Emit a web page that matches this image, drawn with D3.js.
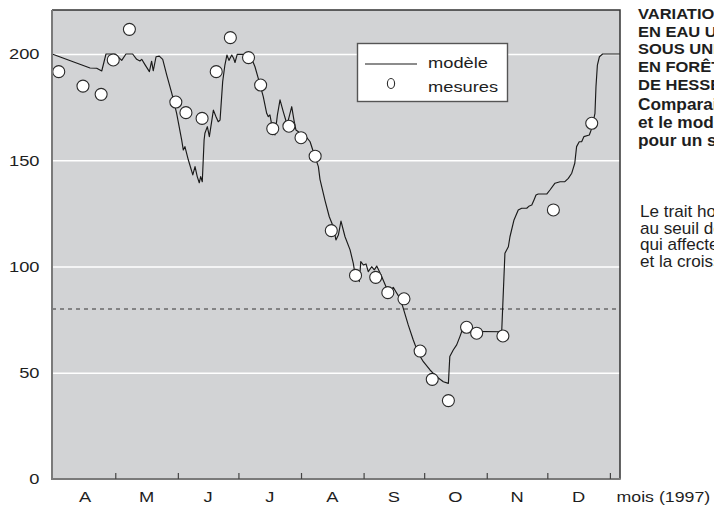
<!DOCTYPE html>
<html>
<head>
<meta charset="utf-8">
<script src="https://cdn.jsdelivr.net/npm/d3@7"></script>
<style>
  html, body { margin: 0; padding: 0; background: #fff; }
  svg { display: block; }
  text { font-family: "Liberation Sans", Arial, Helvetica, sans-serif; fill: #1e1e1e; }
</style>
</head>
<body>
<svg id="chart" width="714" height="505"></svg>
<script>
// ---- data (x = day of year 1997) ----
const modelDay = [89.7,108.5,111.8,114.3,116.4,120.9,124.2,126.3,129.6,131.6,133.2,134.1,135.7,137.9,139.0,139.8,141.2,142.8,144.5,146.5,149.0,151.4,153.9,154.7,155.5,157.2,159.4,160.5,161.6,162.6,163.3,164.1,165.0,165.4,166.6,167.6,169.6,170.9,172.0,172.9,174.2,175.3,176.3,177.3,178.7,179.6,180.3,181.4,187.7,190.2,191.8,194.3,196.0,196.8,197.6,199.0,200.1,201.3,202.6,204.2,205.9,206.7,208.4,209.5,210.5,211.7,213.3,214.5,215.5,217.5,219.1,221.6,222.4,224.9,227.0,229.0,230.3,231.5,232.8,234.8,237.3,238.9,239.7,241.9,242.6,243.9,245.2,246.3,248.0,249.3,250.5,251.8,253.0,255.1,257.1,258.7,260.0,262.0,263.4,266.1,268.6,271.1,273.6,276.9,280.2,283.5,286.0,286.7,288.4,290.1,291.7,293.4,295.2,312.4,314.0,315.7,316.5,318.5,320.6,322.3,324.8,326.1,327.3,328.4,329.4,330.5,334.7,336.3,338.8,341.3,343.7,345.4,347.1,348.6,349.5,350.8,352.0,353.1,355.8,357.0,358.6,359.1,359.8,360.8,362.4,371.0];
const modelValue = [200,193.4,193.3,192,200,200,197,200,200,197.5,196.7,197.5,195,191.7,196.6,192.1,198.7,199,197.5,190.1,181.5,172.1,159.5,154.8,156.4,150.1,143.1,147,142.3,139.4,142.3,139.9,159.5,162.7,165.8,161.1,173.6,170.5,168.1,168.9,187,194.8,199.5,197,199.5,198,196,199.8,199.8,194,188.6,179.9,172.1,170.5,171.3,164.2,161.9,171.3,178.4,172.9,167.4,168.9,175.2,168.9,164.2,163.4,158,158.7,161.1,158.7,154,147,141,131,123.4,118.7,112.5,114.8,121.4,114,107.8,101.5,96.8,92.9,102.3,100.7,101.2,97.6,99.9,98.4,100.2,97.6,95.2,90.5,88.9,90.2,88.1,85,81.1,72.5,65.4,59.1,55.2,51.3,48.1,45.8,45,57.6,60.7,63.1,67,71.5,69.5,69.3,106.2,109.3,114,121.9,126.6,127.4,127.4,128.5,128.9,131.3,133.6,134.1,134.1,136,139.2,139.9,139.9,141.5,143.9,148.6,156.4,158.7,158.7,161.1,161.9,165,172.1,184.6,194.8,198.7,200,200];
const measureDay = [93,105,114,120,128,151,156,164,171,178,187,193,199,207,213,220,228,240,250,256,264,272,278,286,295,300,313,338,357];
const measureValue = [191.7,184.9,181,197.2,211.6,177.4,172.4,169.7,191.7,207.7,198.3,185.4,164.9,166,160.6,151.9,116.9,95.8,94.9,87.7,84.8,60.2,46.9,36.9,71.4,68.6,67.3,126.6,167.4];
const yTicks = [0, 50, 100, 150, 200];
const gridValues = [50, 100, 150, 200];
const monthLabels = ["A", "M", "J", "J", "A", "S", "O", "N", "D"];
const monthStart = [91, 121, 152, 182, 213, 244, 274, 305, 335, 366];
const threshold = 80;
const legendLabels = ["modèle", "mesures"];
const axisTitle = "mois (1997)";
const titleLines = ["VARIATIONS DE LA RÉSERVE", "EN EAU UTILE DU SOL", "SOUS UNE HÊTRAIE", "EN FORÊT DOMANIALE", "DE HESSE (MOSELLE)"];
const subtitleLines = ["Comparaison entre les mesures", "et le modèle", "pour un sol limoneux"];
const noteLines = ["Le trait horizontal correspond", "au seuil de déficit hydrique", "qui affecte la transpiration", "et la croissance des arbres."];

// ---- layout ----
const L = 52, R = 620, T = 10, B = 479;
const SX = 1.22; // horizontal stretch of chart lettering
const svg = d3.select("#chart");

const x = d3.scaleLinear().domain([89.66, 371]).range([L, R]);
const y = d3.scaleLinear().domain([0, 220.7]).range([B, T]);

// plot background
svg.append("rect").attr("x", L).attr("y", T).attr("width", R - L).attr("height", B - T)
  .attr("fill", "#d2d3d5");

// gridlines
const grid = svg.append("g").attr("transform", `translate(${L},0)`)
  .call(d3.axisLeft(y).tickValues(gridValues).tickSize(-(R - L)).tickFormat(""));
grid.select(".domain").remove();
grid.selectAll("line").attr("stroke", "#ffffff").attr("stroke-width", 1.3);

// threshold dashed line
svg.append("line")
  .attr("x1", L).attr("x2", R).attr("y1", y(threshold)).attr("y2", y(threshold))
  .attr("stroke", "#6a6a6a").attr("stroke-width", 1.3).attr("stroke-dasharray", "4,4");

// model line
const modelData = modelDay.map((d, i) => ({ d, v: modelValue[i] }));
svg.append("path").datum(modelData)
  .attr("fill", "none").attr("stroke", "#1a1a1a").attr("stroke-width", 1.15)
  .attr("stroke-linejoin", "round")
  .attr("d", d3.line().x(p => x(p.d)).y(p => y(p.v)));

// measures
const measData = measureDay.map((d, i) => ({ d, v: measureValue[i] }));
svg.append("g").selectAll("circle").data(measData).join("circle")
  .attr("cx", p => x(p.d)).attr("cy", p => y(p.v)).attr("r", 6)
  .attr("fill", "#ffffff").attr("stroke", "#2a2a2a").attr("stroke-width", 1.1);

// frame: top & right dark
svg.append("path")
  .attr("d", `M${L},${T}H${R}V${B}`)
  .attr("fill", "none").attr("stroke", "#333").attr("stroke-width", 1.5);

// y axis
const yAxis = svg.append("g").attr("transform", `translate(${L},0)`)
  .call(d3.axisLeft(y).tickValues(yTicks).tickSize(0).tickPadding(0));
yAxis.select(".domain").attr("stroke", "#7a7a7a").attr("stroke-width", 2)
  .attr("d", `M0,${B}V${T}`);
yAxis.selectAll("text")
  .attr("x", -12.5 / SX).attr("transform", `scale(${SX},1)`)
  .attr("font-size", 15).attr("font-family", "Liberation Sans, Arial, sans-serif")
  .attr("fill", "#1e1e1e");

// x axis ticks (month boundaries)
const xAxis = svg.append("g").attr("transform", `translate(0,${B})`)
  .call(d3.axisBottom(x).tickValues(monthStart.slice(1)).tickSize(-6).tickFormat(""));
xAxis.select(".domain").attr("stroke", "#7a7a7a").attr("stroke-width", 2)
  .attr("d", `M${L - 1},0H${R + 0.75}`);
xAxis.selectAll(".tick line").attr("stroke", "#444").attr("stroke-width", 1.2);

// month labels
const mid = monthLabels.map((m, i) => ({ m, d: (monthStart[i] + monthStart[i + 1]) / 2 }));
svg.append("g").selectAll("g").data(mid).join("g")
  .attr("transform", p => `translate(${x(p.d)},501.5) scale(${SX},1)`)
  .append("text").attr("text-anchor", "middle").attr("font-size", 15).text(p => p.m);

svg.append("g").attr("transform", `translate(616.5,501.5) scale(${SX * 0.97},1)`)
  .append("text").attr("font-size", 15).text(axisTitle);

// legend
const lg = svg.append("g");
lg.append("rect").attr("x", 357.5).attr("y", 43.5).attr("width", 150).attr("height", 58)
  .attr("fill", "#ffffff").attr("stroke", "#555").attr("stroke-width", 1.4);
lg.append("line").attr("x1", 365).attr("x2", 417).attr("y1", 64).attr("y2", 64)
  .attr("stroke", "#1a1a1a").attr("stroke-width", 1.1);
lg.append("ellipse").attr("cx", 391).attr("cy", 83.5).attr("rx", 3.6).attr("ry", 5)
  .attr("fill", "none").attr("stroke", "#2a2a2a").attr("stroke-width", 1.1);
lg.selectAll("g.lab").data(legendLabels).join("g").attr("class", "lab")
  .attr("transform", (t, i) => `translate(428,${67.5 + i * 24}) scale(${SX},1)`)
  .append("text").attr("font-size", 15).text(t => t);

// side text (runs past the right edge, as in the original layout)
const side = svg.append("g").attr("transform", "translate(638,0) scale(1.1,1)");
side.selectAll("text.t").data(titleLines).join("text").attr("class", "t")
  .attr("x", 0).attr("y", (t, i) => 19 + i * 17.75)
  .attr("font-size", 15).attr("font-weight", "bold").text(t => t);
const sub = svg.append("g").attr("transform", "translate(638,0) scale(1.08,1)");
sub.selectAll("text.s").data(subtitleLines).join("text").attr("class", "s")
  .attr("x", 0).attr("y", (t, i) => 110.5 + i * 17.6)
  .attr("font-size", 16).attr("font-weight", "bold").text(t => t);
const note = svg.append("g").attr("transform", "translate(640,0) scale(1.07,1)");
note.selectAll("text.n").data(noteLines).join("text").attr("class", "n")
  .attr("x", 0).attr("y", (t, i) => 217 + i * 16.6)
  .attr("font-size", 16).text(t => t);
</script>
</body>
</html>
